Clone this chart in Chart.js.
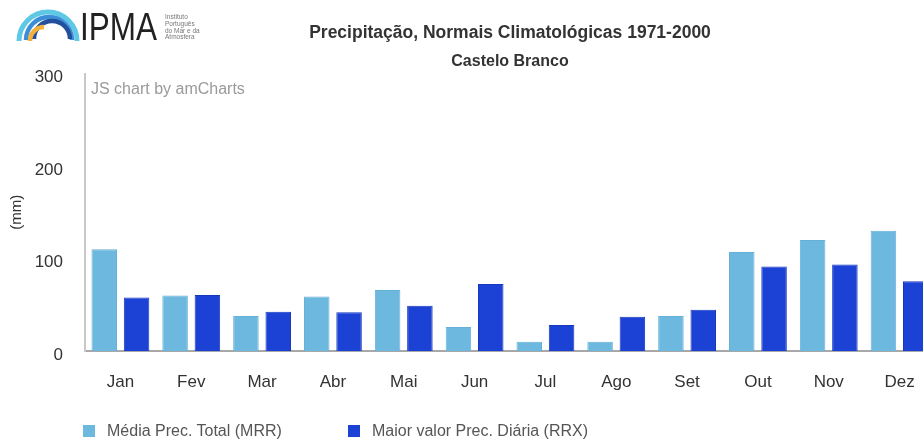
<!DOCTYPE html>
<html><head><meta charset="utf-8">
<script src="https://cdn.jsdelivr.net/npm/chart.js@4.4.0/dist/chart.umd.min.js"></script>
<style>
html,body{margin:0;padding:0;background:#fff;overflow:hidden;width:923px;height:443px;}
#wrap{position:relative;width:923px;height:443px;overflow:hidden;font-family:'Liberation Sans',Arial,sans-serif;}
#c{position:absolute;left:0;top:0;}
#logo{position:absolute;left:0;top:0;}
#credit{position:absolute;left:91px;top:80px;font-size:16px;color:#9a9a9a;white-space:nowrap;}
.li{position:absolute;top:421px;font-size:16px;color:#555;display:flex;align-items:center;white-space:nowrap;line-height:20px;}
.sw{width:12px;height:12px;margin-right:12px;}
</style></head>
<body><div id="wrap">
<canvas id="c" width="945" height="443"></canvas>
<svg id="logo" width="240" height="52" viewBox="0 0 240 52">
 <path d="M19,41 A29,29 0 0 1 77,41" fill="none" stroke="#5ec8e5" stroke-width="5"/>
 <path d="M26,40 A23,23 0 0 1 72,40" fill="none" stroke="#3d8ed8" stroke-width="4.5"/>
 <path d="M34,39 A18,18 0 0 1 70,39" fill="none" stroke="#23509c" stroke-width="4.5"/>
 <path d="M30,41 A14,14 0 0 1 44,27" fill="none" stroke="#f2b13a" stroke-width="4.5"/>
 <text x="80" y="40" font-family="Liberation Sans, Arial, sans-serif" font-size="39" textLength="77" lengthAdjust="spacingAndGlyphs" fill="#222">IPMA</text>
 <g font-family="Liberation Sans, Arial, sans-serif" font-size="6.5" fill="#777">
  <text x="165" y="19">Instituto</text>
  <text x="165" y="26">Português</text>
  <text x="165" y="32.5">do Mar e da</text>
  <text x="165" y="39">Atmosfera</text>
 </g>
</svg>
<div id="credit">JS chart by amCharts</div>
<div id="legend"></div>
</div>
<script>
const months = ['Jan','Fev','Mar','Abr','Mai','Jun','Jul','Ago','Set','Out','Nov','Dez'];
const mrrValues = [110, 60, 38, 59, 66, 26, 10, 10, 38, 107, 120, 130];
const rrxValues = [58, 60.5, 42.5, 42, 49, 72.5, 28, 37, 44.5, 91.5, 93.5, 75.5];
const seriesNames = ['Média Prec. Total (MRR)', 'Maior valor Prec. Diária (RRX)'];
const yTicks = [0, 100, 200, 300];
const chartTitle = 'Precipitação, Normais Climatológicas 1971-2000';
const chartSubtitle = 'Castelo Branco';
const axisTitle = '(mm)';

const FONT = "'Liberation Sans', Arial, sans-serif";
const colors = ['#6cb8de', '#1b41d5'];
const borders = ['#66b1d8', '#1737bd'];

const chart = new Chart(document.getElementById('c'), {
  type: 'bar',
  data: {
    labels: months,
    datasets: [
      { label: seriesNames[0], data: mrrValues, backgroundColor: colors[0], borderColor: borders[0], borderWidth: 1, barPercentage: 0.79, categoryPercentage: 0.912 },
      { label: seriesNames[1], data: rrxValues, backgroundColor: colors[1], borderColor: borders[1], borderWidth: 1, barPercentage: 0.79, categoryPercentage: 0.912 }
    ]
  },
  options: {
    responsive: false,
    animation: false,
    devicePixelRatio: 1,
    layout: { padding: { left: 0, right: 10, top: 0, bottom: 0 } },
    plugins: {
      legend: { display: false },
      tooltip: { enabled: false },
      title: { display: true, text: chartTitle, fullSize: false, color: '#333', font: { family: FONT, size: 17.5, weight: 'bold' }, padding: { top: 22.3, bottom: 8.3 } },
      subtitle: { display: true, text: chartSubtitle, fullSize: false, color: '#333', font: { family: FONT, size: 16, weight: 'bold' }, padding: { top: 0, bottom: 2.9 } }
    },
    scales: {
      x: {
        grid: { display: false, drawTicks: false },
        border: { display: true, color: '#a8a8a8', width: 2 },
        ticks: { color: '#333', font: { family: FONT, size: 17 }, padding: 21, maxRotation: 0, autoSkip: false },
        afterFit(s) { s.height = 92; }
      },
      y: {
        min: 0, max: 300,
        grid: { display: false, drawTicks: false },
        border: { display: true, color: '#c8c8c8', width: 2 },
        ticks: { color: '#333', font: { family: FONT, size: 17 }, padding: 22, labelOffset: 4 },
        title: { display: true, text: axisTitle, color: '#333', font: { family: FONT, size: 15 }, padding: { top: 8, bottom: 0 } },
        afterBuildTicks(s) { s.ticks = yTicks.map(v => ({ value: v })); },
        afterFit(s) { s.width = 85; }
      }
    }
  }
});

const legendLefts = [83, 348];
const lg = document.getElementById('legend');
chart.data.datasets.forEach((ds, i) => {
  const d = document.createElement('div');
  d.className = 'li';
  d.style.left = legendLefts[i] + 'px';
  const sw = document.createElement('span');
  sw.className = 'sw';
  sw.style.background = ds.backgroundColor;
  const t = document.createElement('span');
  t.textContent = ds.label;
  d.appendChild(sw); d.appendChild(t);
  lg.appendChild(d);
});
</script>
</body></html>
